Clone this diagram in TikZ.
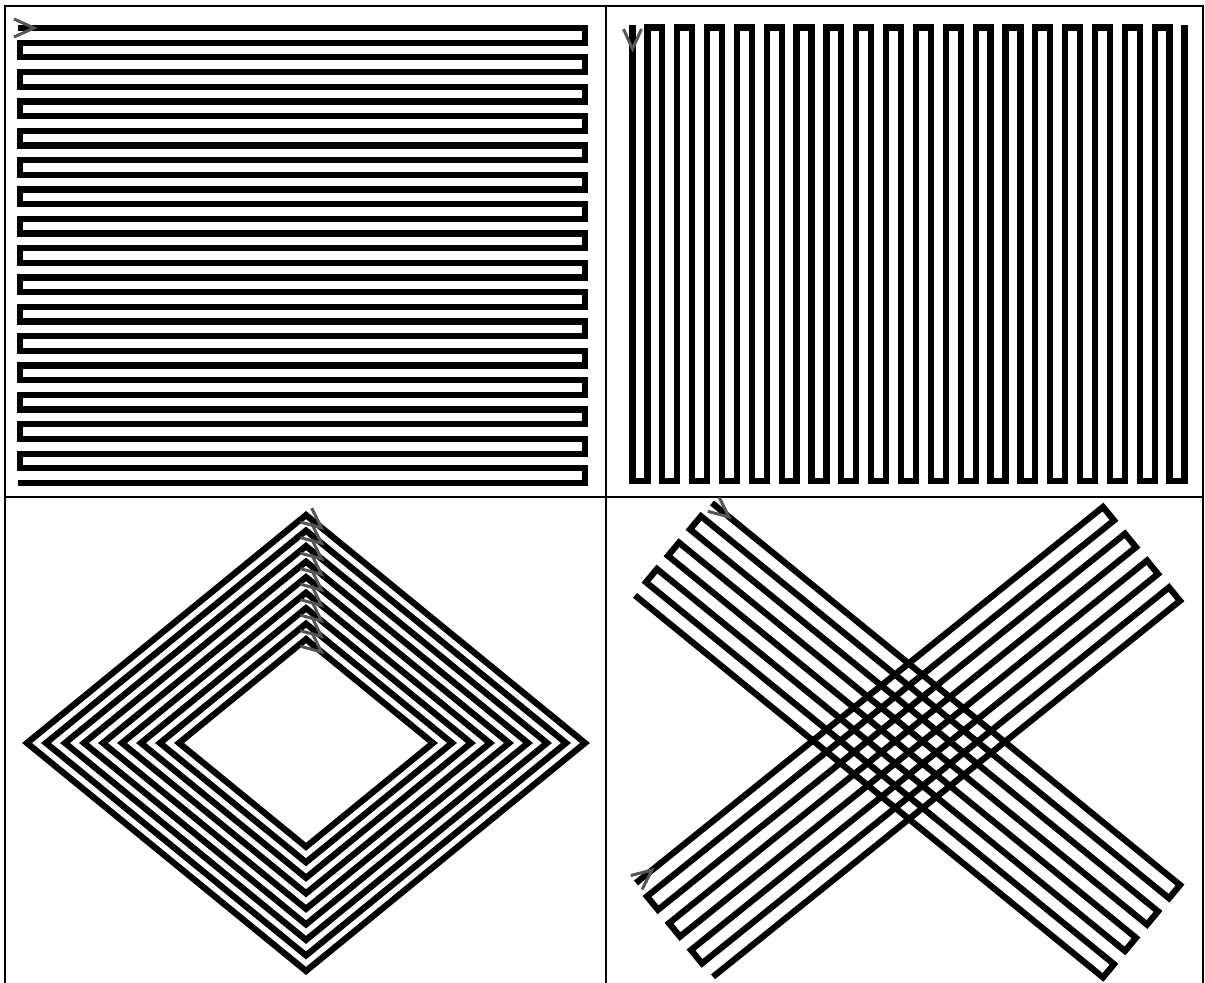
\documentclass[tikz,border=0pt]{standalone}
\usepackage{tikz}
\definecolor{hachure}{RGB}{85, 85, 85}
\tikzset{
  trace/.style={line width=1.25mm},
  cadre/.style={line width=0.4mm},
  flow/.style={draw=hachure, line width=0.6mm}
}

\begin{document}
\begin{tikzpicture}[x=0.02cm, y=-0.02cm]
    \useasboundingbox (0,0) rectangle (1205,983);
    \def\fleche#1#2{
      \draw[flow, shift={#1}, rotate=#2] (-20,9) -- (0,0) -- (-20,-9);
    }
    % cadre
    \draw[cadre] (5,983) -- (5,6) -- (1203,6) -- (1203,983);
    \draw[cadre] (606,6) -- (606,983);
    \draw[cadre] (5,497) -- (1203,497);
    % balayage horizontal
    \begin{scope}
      \draw[trace] (18,28) -- (585,28) -- (585,42.68) -- (20,42.68)
        \foreach \j in {1,...,15} {
          -- (20,{28+2*\j*14.677}) -- (585,{28+2*\j*14.677})
          -- (585,{28+(2*\j+1)*14.677}) -- (20,{28+(2*\j+1)*14.677})
        } -- (18,{28+31*14.677});
      \fleche{(34,28)}{0}
    \end{scope}
    % balayage vertical
    \begin{scope}
      \draw[trace] (632.5,25) -- (632.5,481) -- (647.42,481) -- (647.42,27.5)
        \foreach \j in {1,...,18} {
          -- ({632.5+2*\j*14.919},27.5) -- ({632.5+2*\j*14.919},481)
          -- ({632.5+(2*\j+1)*14.919},481) -- ({632.5+(2*\j+1)*14.919},27.5)
        } -- ({632.5+37*14.919},25);
      \fleche{(632.5,49)}{-90}
    \end{scope}
    % losanges
    \begin{scope}
      \foreach \w in {279,260,...,127} {
        \draw[trace] (306,{743-0.817*\w}) -- ({306+\w},743)
          -- (306,{743+0.817*\w}) -- ({306-\w},743) -- cycle;
        \fleche{(321.5,{743-0.817*\w+12.7})}{-39.3}
      }
    \end{scope}
    % croix
    \begin{scope}
      \draw[trace] (712,503) -- (1180,885) -- (1169,898.2) -- (701,516.2)
        \foreach \j in {1,2,3} {
          -- ({712-22*\j},{503+26.4*\j}) -- ({1180-22*\j},{885+26.4*\j})
          -- ({1169-22*\j},{898.2+26.4*\j}) -- ({701-22*\j},{516.2+26.4*\j})
        };
      \draw[trace] (636,883) -- (1103,507) -- (1114,520.4) -- (647,896.4)
        \foreach \j in {1,2,3} {
          -- ({636+22*\j},{883+26.8*\j}) -- ({1103+22*\j},{507+26.8*\j})
          -- ({1114+22*\j},{520.4+26.8*\j}) -- ({647+22*\j},{896.4+26.8*\j})
        };
      \fleche{(729,517)}{-39.2}
      \fleche{(652,870)}{38.8}
    \end{scope}
  \end{tikzpicture}
\end{document}
